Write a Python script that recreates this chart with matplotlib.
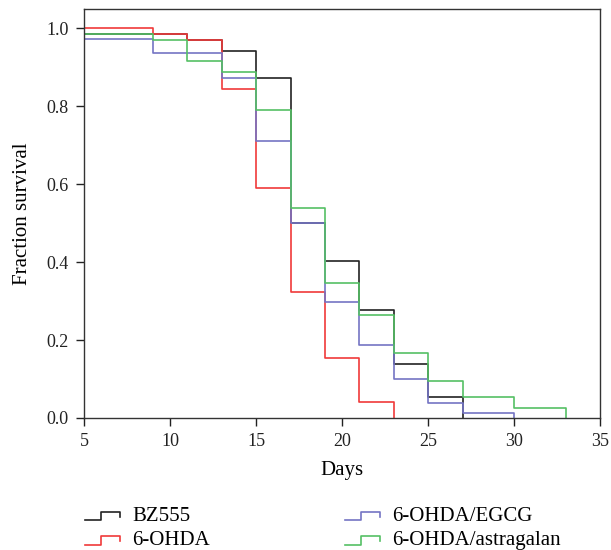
import matplotlib
matplotlib.use("Agg")
import matplotlib.pyplot as plt
from matplotlib.lines import Line2D
from matplotlib.legend_handler import HandlerBase

plt.rcParams['font.family'] = ['Liberation Serif', 'DejaVu Serif']

# survival curves (step changes at these days)
bz555_days = [5, 11, 13, 15, 17, 19, 21, 23, 25, 27]
bz555_surv = [0.984, 0.969, 0.942, 0.873, 0.500, 0.403, 0.276, 0.139, 0.055, 0.0]

ohda_days = [5, 9, 11, 13, 15, 17, 19, 21, 23]
ohda_surv = [1.0, 0.984, 0.969, 0.844, 0.590, 0.324, 0.155, 0.042, 0.0]

egcg_days = [5, 9, 13, 15, 17, 19, 21, 23, 25, 27, 30]
egcg_surv = [0.973, 0.936, 0.873, 0.710, 0.500, 0.298, 0.187, 0.099, 0.038, 0.012, 0.0]

astr_days = [5, 9, 11, 13, 15, 17, 19, 21, 23, 25, 27, 30, 33]
astr_surv = [0.984, 0.969, 0.915, 0.887, 0.791, 0.539, 0.346, 0.263, 0.166, 0.096, 0.055, 0.026, 0.0]

labels = ["BZ555", "6-OHDA", "6-OHDA/EGCG", "6-OHDA/astragalan"]
colors = ["#222222", "#f03a3a", "#7474c4", "#55c065"]
x_ticks = [5, 10, 15, 20, 25, 30, 35]
y_ticks = [0.0, 0.2, 0.4, 0.6, 0.8, 1.0]


class StepHandler(HandlerBase):
    # little step glyph used as legend key
    def create_artists(self, legend, orig, xd, yd, w, h, fontsize, trans):
        xs = [xd, xd + w * 0.46, xd + w * 0.46, xd + w, xd + w]
        ys = [yd + h * 0.05, yd + h * 0.05, yd + h * 0.62, yd + h * 0.62, yd + h * 0.3]
        ln = Line2D(xs, ys, color=orig.get_color(), lw=1.2, transform=trans)
        return [ln]


fig = plt.figure(figsize=(6.11, 5.5), dpi=100)
ax = fig.add_axes([0.1375, 0.24, 0.845, 0.7436])

series = [(bz555_days, bz555_surv), (ohda_days, ohda_surv),
          (egcg_days, egcg_surv), (astr_days, astr_surv)]
handles = []
for (d, s), c, lab in zip(series, colors, labels):
    h, = ax.step(d, s, where='post', color=c, lw=1.2, label=lab)
    handles.append(h)

ax.set_xlim(5, 35)
ax.set_ylim(0, 1.049)
ax.set_xticks(x_ticks)
ax.set_yticks(y_ticks)
ax.set_yticklabels(["%.1f" % v for v in y_ticks])
ax.tick_params(direction='out', length=6, width=1, labelsize=13,
               colors='#222222', pad=5)
for sp in ax.spines.values():
    sp.set_color('#333333')
    sp.set_linewidth(1)

ax.set_xlabel("Days", fontsize=15, labelpad=8)
ax.set_ylabel("Fraction survival", fontsize=15, labelpad=10)

fig.legend(handles=handles, labels=labels, ncol=2, loc='upper left',
           bbox_to_anchor=(0.139, 0.079), frameon=False, fontsize=15,
           handler_map={Line2D: StepHandler()}, handlelength=1.68,
           handletextpad=0.58, columnspacing=6.5, labelspacing=0.22,
           borderaxespad=0, borderpad=0)

fig.savefig("out.png", dpi=100)
